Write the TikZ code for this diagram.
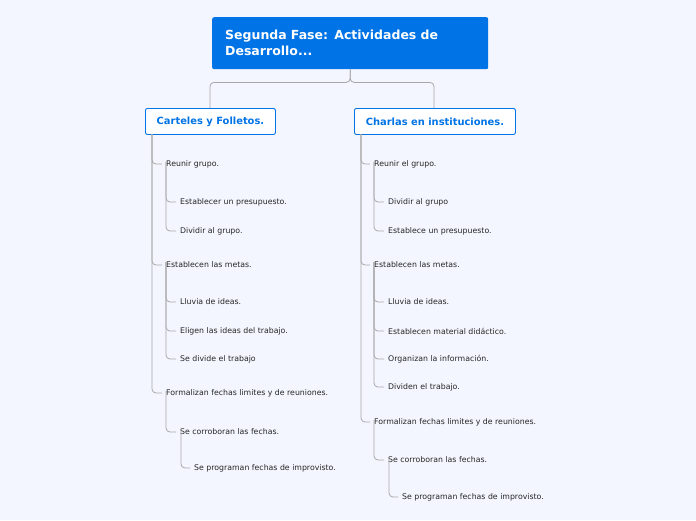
\documentclass[tikz,border=0pt]{standalone}
\usepackage{fontspec}
\setmainfont{DejaVu Sans}
\definecolor{bg}{HTML}{F3F6FE}
\definecolor{mblue}{HTML}{0073E6}
\definecolor{ln}{HTML}{A8A8A8}
\tikzset{
 root/.style={fill=mblue,rounded corners=2pt,minimum width=276pt,minimum height=52pt,text width=250pt,align=left,text=white,font=\bfseries\fontsize{12.5}{16}\selectfont},
 child/.style={draw=mblue,line width=0.9pt,fill=white,rounded corners=2pt,minimum height=26pt,text=mblue,font=\bfseries\fontsize{9.9}{11}\selectfont},
 item/.style={anchor=west,inner sep=0pt,font=\fontsize{7.8}{9}\selectfont,text=black!85},
 conn/.style={draw=ln,line width=0.8pt,rounded corners=4pt},
}
\begin{document}
\begin{tikzpicture}[x=1pt,y=-1pt]
\fill[bg] (0,0) rectangle (696,520);
\node[root,anchor=north west] (R) at (212,17) {Segunda Fase: Actividades de\\Desarrollo...};
\node[child,anchor=north west,minimum width=130pt] (L) at (145,108) {Carteles y Folletos.};
\node[child,anchor=north west,minimum width=161pt] (C) at (354,108) {Charlas en instituciones.};
\draw[conn] (R.south) |- ++(0,13) -| (L.north -| 210,0);
\draw[conn] (R.south) |- ++(0,13) -| (C.north -| 434,0);
% left
\node[item] (a1) at (166,164) {Reunir grupo.};
\node[item] (a11) at (180,202) {Establecer un presupuesto.};
\node[item] (a12) at (180,231) {Dividir al grupo.};
\node[item] (a2) at (166,265) {Establecen las metas.};
\node[item] (a21) at (180,302) {Lluvia de ideas.};
\node[item] (a22) at (180,331) {Eligen las ideas del trabajo.};
\node[item] (a23) at (180,359) {Se divide el trabajo};
\node[item] (a3) at (166,393) {Formalizan fechas limites y de reuniones.};
\node[item] (a31) at (180,432) {Se corroboran las fechas.};
\node[item] (a311) at (194,468) {Se programan fechas de improvisto.};
\coordinate (Ls) at (152,134);
\foreach \n in {a1,a2,a3} \draw[conn] (Ls) |- ([xshift=-4pt]\n.west);
\foreach \p/\n in {a1/a11,a1/a12,a2/a21,a2/a22,a2/a23,a3/a31} \draw[conn] ([yshift=6pt]\p.south west) |- ([xshift=-4pt]\n.west);
\draw[conn] ([xshift=1pt,yshift=6pt]a31.south west) |- ([xshift=-4pt]a311.west);
% right
\node[item] (b1) at (374,164) {Reunir el grupo.};
\node[item] (b11) at (388,202) {Dividir al grupo};
\node[item] (b12) at (388,231) {Establece un presupuesto.};
\node[item] (b2) at (374,265) {Establecen las metas.};
\node[item] (b21) at (388,302) {Lluvia de ideas.};
\node[item] (b22) at (388,331) {Establecen material didáctico.};
\node[item] (b23) at (388,359) {Organizan la información.};
\node[item] (b24) at (388,387) {Dividen el trabajo.};
\node[item] (b3) at (374,422) {Formalizan fechas limites y de reuniones.};
\node[item] (b31) at (388,460) {Se corroboran las fechas.};
\node[item] (b311) at (402,497) {Se programan fechas de improvisto.};
\coordinate (Cs) at (361,134);
\foreach \n in {b1,b2,b3} \draw[conn] (Cs) |- ([xshift=-4pt]\n.west);
\foreach \p/\n in {b1/b11,b1/b12,b2/b21,b2/b22,b2/b23,b2/b24,b3/b31} \draw[conn] ([yshift=6pt]\p.south west) |- ([xshift=-4pt]\n.west);
\draw[conn] ([xshift=1pt,yshift=6pt]b31.south west) |- ([xshift=-4pt]b311.west);
\end{tikzpicture}
\end{document}
